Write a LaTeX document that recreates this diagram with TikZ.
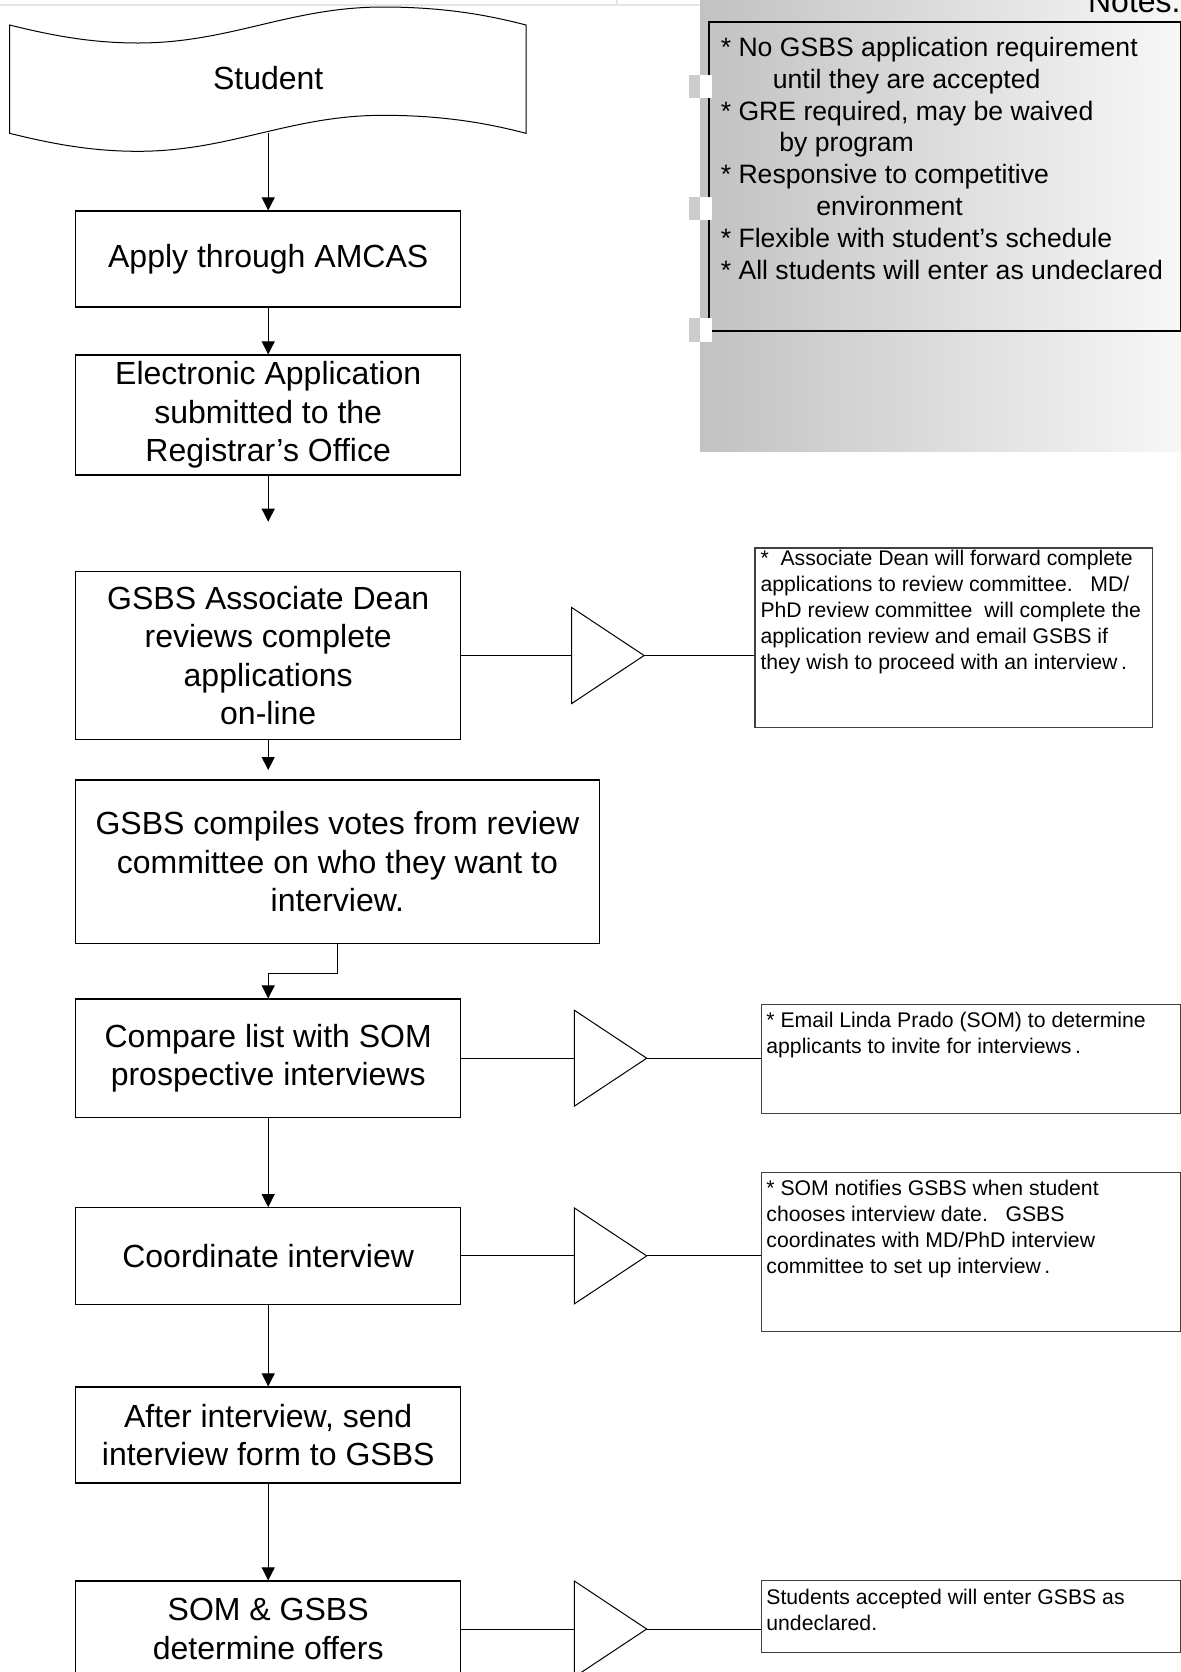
\documentclass[tikz,border=0pt]{standalone}
\usepackage{fontspec}
\setmainfont{Liberation Sans}
\usetikzlibrary{arrows.meta}

\begin{document}
\begin{tikzpicture}[x=0.5pt, y=-0.5pt,
  box/.style={draw, line width=0.6pt, inner sep=0pt, align=center, font=\fontsize{16}{19.2}\selectfont, minimum width=192.5pt},
  notebox/.style={draw=black!75, line width=0.6pt, inner sep=0pt, anchor=north west},
  notetext/.style={inner sep=0pt, anchor=north west, align=left, font=\fontsize{10.6}{13}\selectfont},
  flow/.style={-{Triangle[length=6.5pt,width=6.5pt]}, line width=0.5pt},
  link/.style={line width=0.5pt},
  tri/.style={draw, line width=0.5pt, fill=white}]
\useasboundingbox (0,0) rectangle (1181,1672);
%%%%% Notes panel %%%%%
\shade[left color=black!24, right color=black!3] (700,0) rectangle (1181,451.7);
\draw[black!10, line width=1pt] (0,4.5) -- (700,4.5);
\draw[black!10, line width=0.8pt] (617,0) -- (617,4.5);
\node[draw, line width=0.9pt, inner sep=0pt, anchor=north west, minimum width=235.8pt, minimum height=154.5pt] (notes) at (708.2,21) {};
\foreach \y in {75,196.7,318.3}{
\fill[black!20] (689,\y) rectangle (700,\y+23.3);
\fill[white] (700,\y) rectangle (712,\y+23.3);
}
\node[anchor=base east, inner sep=0pt, font=\fontsize{16}{19.2}\selectfont] (notestitle) at (1181,12.7) {Notes.};
\node[anchor=north west, inner sep=0pt, align=left, font=\fontsize{13.3}{15.95}\selectfont] (notestext) at (720.4,36.6) {* No GSBS application requirement\\\hspace*{26pt}until they are accepted\\* GRE required, may be waived\\\hspace*{29.3pt}by program\\* Responsive to competitive\\\hspace*{47.8pt}environment\\* Flexible with student’s schedule\\* All students will enter as undeclared};

%%%%% Main column %%%%%
\draw[line width=0.5pt] (9.6,25) .. controls (50,35) and (90,43) .. (138,43) .. controls (230,43) and (290,7) .. (383,7) .. controls (450,7) and (495,17) .. (526,25) -- (526,133.3) .. controls (495,125.3) and (450,115.3) .. (383,115.3) .. controls (290,115.3) and (230,151.3) .. (138,151.3) .. controls (90,151.3) and (50,143.3) .. (9.6,133.3) -- cycle;
\node[box, draw=none, minimum width=0pt] (student) at (268.2,78) {Student};
\node[box, minimum height=48pt] (apply) at (268.2,259) {Apply through AMCAS};
\node[box, minimum height=60pt] (eapp) at (268.2,415) {Electronic Application\\submitted to the\\Registrar’s Office};
\node[box, minimum height=83.8pt] (dean) at (268.2,655.5) {GSBS Associate Dean\\reviews complete\\applications\\on-line};
\node[box, minimum width=261.7pt, minimum height=81.7pt] (votes) at (337.4,861.7) {GSBS compiles votes from review\\committee on who they want to\\interview.};
\node[box, minimum height=59.2pt] (compare) at (268.2,1058.2) {Compare list with SOM\\prospective interviews};
\node[box, minimum height=48.2pt] (coord) at (268.2,1255.9) {Coordinate interview};
\node[box, minimum height=48pt] (after) at (268.2,1435) {After interview, send\\interview form to GSBS};
\node[box, minimum height=48pt] (offers) at (268.2,1629) {SOM \& GSBS\\determine offers};

\coordinate (studentfoot) at (268.2,132.5);
\coordinate (eappend) at (268.2,521.7);
\coordinate (deanend) at (268.2,770);
\draw[flow] (studentfoot) -- (apply);
\draw[flow] (apply) -- (eapp);
\draw[flow] (eapp) -- (eappend);
\draw[flow] (dean) -- (deanend);
\draw[flow] (votes.south) -- ++(0,29) -| (compare.north);
\draw[flow] (compare) -- (coord);
\draw[flow] (coord) -- (after);
\draw[flow] (after) -- (offers);

%%%%% Side notes %%%%%
\node[notebox, minimum width=198.7pt, minimum height=89.7pt] (deannote) at (754.3,547.3) {};
\node[notetext, xshift=2.9pt, yshift=-1.2pt] (deantext) at (deannote.north west) {*\ \ Associate Dean will forward complete\\applications to review committee.\ \ \ MD/\\PhD review committee\ \ will complete the\\application review and email GSBS if\\they wish to proceed with an interview\,.};
\node[notebox, minimum width=209.7pt, minimum height=54.35pt] (somnote) at (760.7,1004) {};
\node[notetext, xshift=2.65pt, yshift=-3.7pt] (somtext) at (somnote.north west) {* Email Linda Prado (SOM) to determine\\applicants to invite for interviews\,.};
\node[notebox, minimum width=209.7pt, minimum height=79.65pt] (coordnote) at (760.7,1171.7) {};
\node[notetext, xshift=2.65pt, yshift=-4pt] (coordtext) at (coordnote.north west) {* SOM notifies GSBS when student\\chooses interview date.\ \ \ GSBS\\coordinates with MD/PhD interview\\committee to set up interview\,.};
\node[notebox, minimum width=209.7pt, minimum height=35.85pt] (offernote) at (760.7,1580) {};
\node[notetext, xshift=2.65pt, yshift=-4.3pt] (offertext) at (offernote.north west) {Students accepted will enter GSBS as\\undeclared.};

\coordinate (tri1) at (571.7,655.5);
\coordinate (tri2) at (574.3,1058.2);
\coordinate (tri3) at (574.3,1255.9);
\coordinate (tri4) at (574.3,1629);
\foreach \k in {1,...,4}{
\draw[tri] (tri\k) -- ++(0,-48) -- ++(72.4,48) coordinate (apex\k) -- ++(-72.4,48) -- cycle;
}
\foreach \b/\n/\k in {dean/deannote/1, compare/somnote/2, coord/coordnote/3, offers/offernote/4}{
\draw[link] (\b.east) -- (tri\k);
\draw[link] (apex\k) -- (apex\k -| \n.west);
}

\end{tikzpicture}
\end{document}
